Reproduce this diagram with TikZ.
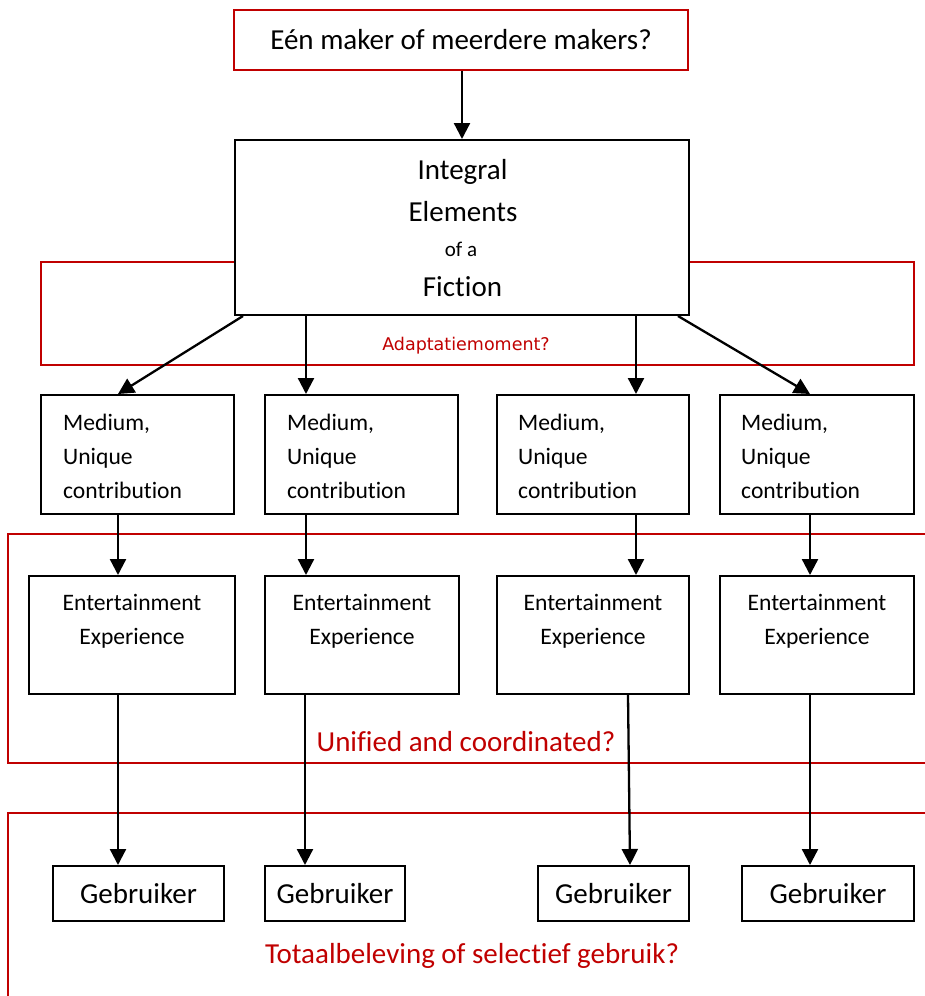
\documentclass[tikz,border=0pt]{standalone}
\usepackage{fontspec}
\setmainfont{Carlito}[Ligatures=NoCommon]
\newfontfamily\notefont{DejaVu Sans}
\usetikzlibrary{arrows.meta}
\definecolor{framered}{RGB}{192,0,0}
\begin{document}
\begin{tikzpicture}[x=1pt,y=-1pt,
  box/.style={draw=black,line width=2pt,fill=white,inner sep=0pt},
  redbox/.style={draw=framered,line width=1.6pt,fill=white,inner sep=0pt},
  frame/.style={draw=framered,line width=1.6pt},
  big/.style={font=\fontsize{29}{35}\selectfont},
  mid/.style={font=\fontsize{23.6}{34}\selectfont},
  redtext/.style={text=framered},
  arr/.style={draw=black,line width=2.3pt,-{Triangle[length=16pt,width=16pt]}}]
\useasboundingbox (0,0) rectangle (925,996);

% column positions for the vertical connectors
\coordinate (c1) at (118,0);
\coordinate (c2) at (306,0);
\coordinate (c2b) at (305,0);
\coordinate (c3) at (636,0);
\coordinate (c3a) at (628,0);
\coordinate (c3b) at (630,0);
\coordinate (c4) at (810,0);

% red question frames
\draw[frame] (41,262) rectangle (914,365);
\draw[frame] (930,534) -- (8,534) -- (8,763) -- (930,763);
\draw[frame] (930,813) -- (8,813) -- (8,1000);

% question at the top
\node[redbox,big,minimum width=454pt,minimum height=60pt] (maker) at (461,40)
  {Eén maker of meerdere makers?};

% central fiction box
\node[box,minimum width=454pt,minimum height=175pt] (fiction) at (462,227.5) {};
\node[big,anchor=base,inner sep=0pt] (f1) at (462.5,179) {Integral};
\node[big,anchor=base,inner sep=0pt] (f2) at (463,221) {Elements};
\node[font=\fontsize{21}{25}\selectfont,anchor=base,inner sep=0pt] (f3) at (461,256) {of a};
\node[big,anchor=base,inner sep=0pt] (f4) at (462.5,296) {Fiction};

\node[redtext,font=\notefont\fontsize{17.5}{21}\selectfont,anchor=base,inner sep=0pt]
  (adapt) at (466,350) {Adaptatiemoment?};

% media
\node[box,minimum width=193pt,minimum height=119pt] (m1) at (137.5,454.5) {};
\node[box,minimum width=193pt,minimum height=119pt] (m2) at (361.5,454.5) {};
\node[box,minimum width=192pt,minimum height=119pt] (m3) at (593,454.5) {};
\node[box,minimum width=194pt,minimum height=119pt] (m4) at (817,454.5) {};
\foreach \n/\x in {m1/63,m2/287,m3/518,m4/741}{
  \node[mid,align=left,anchor=west,inner sep=0pt] (\n text) at (\x,456)
    {Medium,\\Unique\\contribution};
}

% entertainment experiences
\node[box,minimum width=206pt,minimum height=118pt] (e1) at (132,635) {};
\node[box,minimum width=194pt,minimum height=118pt] (e2) at (362,635) {};
\node[box,minimum width=192pt,minimum height=118pt] (e3) at (593,635) {};
\node[box,minimum width=194pt,minimum height=118pt] (e4) at (817,635) {};
\foreach \n/\x in {e1/132,e2/362,e3/593,e4/817}{
  \node[mid,align=center,inner sep=0pt] (\n text) at (\x,621)
    {Entertainment\\Experience};
}
\node[redtext,big] (unified) at (466,742) {Unified and coordinated?};

% users
\node[box,big,minimum width=171pt,minimum height=55pt] (g1) at (138.5,893.5) {Gebruiker};
\node[box,big,minimum width=140pt,minimum height=55pt] (g2) at (335,893.5) {Gebruiker};
\node[box,big,minimum width=151pt,minimum height=55pt] (g3) at (613.5,893.5) {Gebruiker};
\node[box,big,minimum width=172pt,minimum height=55pt] (g4) at (828,893.5) {Gebruiker};
\node[redtext,big] (total) at (472,956) {Totaalbeleving of selectief gebruik?};

% connectors
\draw[arr] (maker.south -| fiction.north) -- (fiction.north);
\draw[arr] ([xshift=9pt]fiction.south west) -- (m1.north -| c1);
\draw[arr] (fiction.south -| c2) -- (m2.north -| c2);
\draw[arr] (fiction.south -| c3) -- (m3.north -| c3);
\draw[arr] ([xshift=-12pt]fiction.south east) -- (m4.north -| c4);

\draw[arr] (m1.south -| c1) -- (e1.north -| c1);
\draw[arr] (m2.south -| c2) -- (e2.north -| c2);
\draw[arr] (m3.south -| c3) -- (e3.north -| c3);
\draw[arr] (m4.south -| c4) -- (e4.north -| c4);

\draw[arr] (e1.south -| c1) -- (g1.north -| c1);
\draw[arr] (e2.south -| c2b) -- (g2.north -| c2b);
\draw[arr] (e3.south -| c3a) -- (g3.north -| c3b);
\draw[arr] (e4.south -| c4) -- (g4.north -| c4);
\end{tikzpicture}
\end{document}
